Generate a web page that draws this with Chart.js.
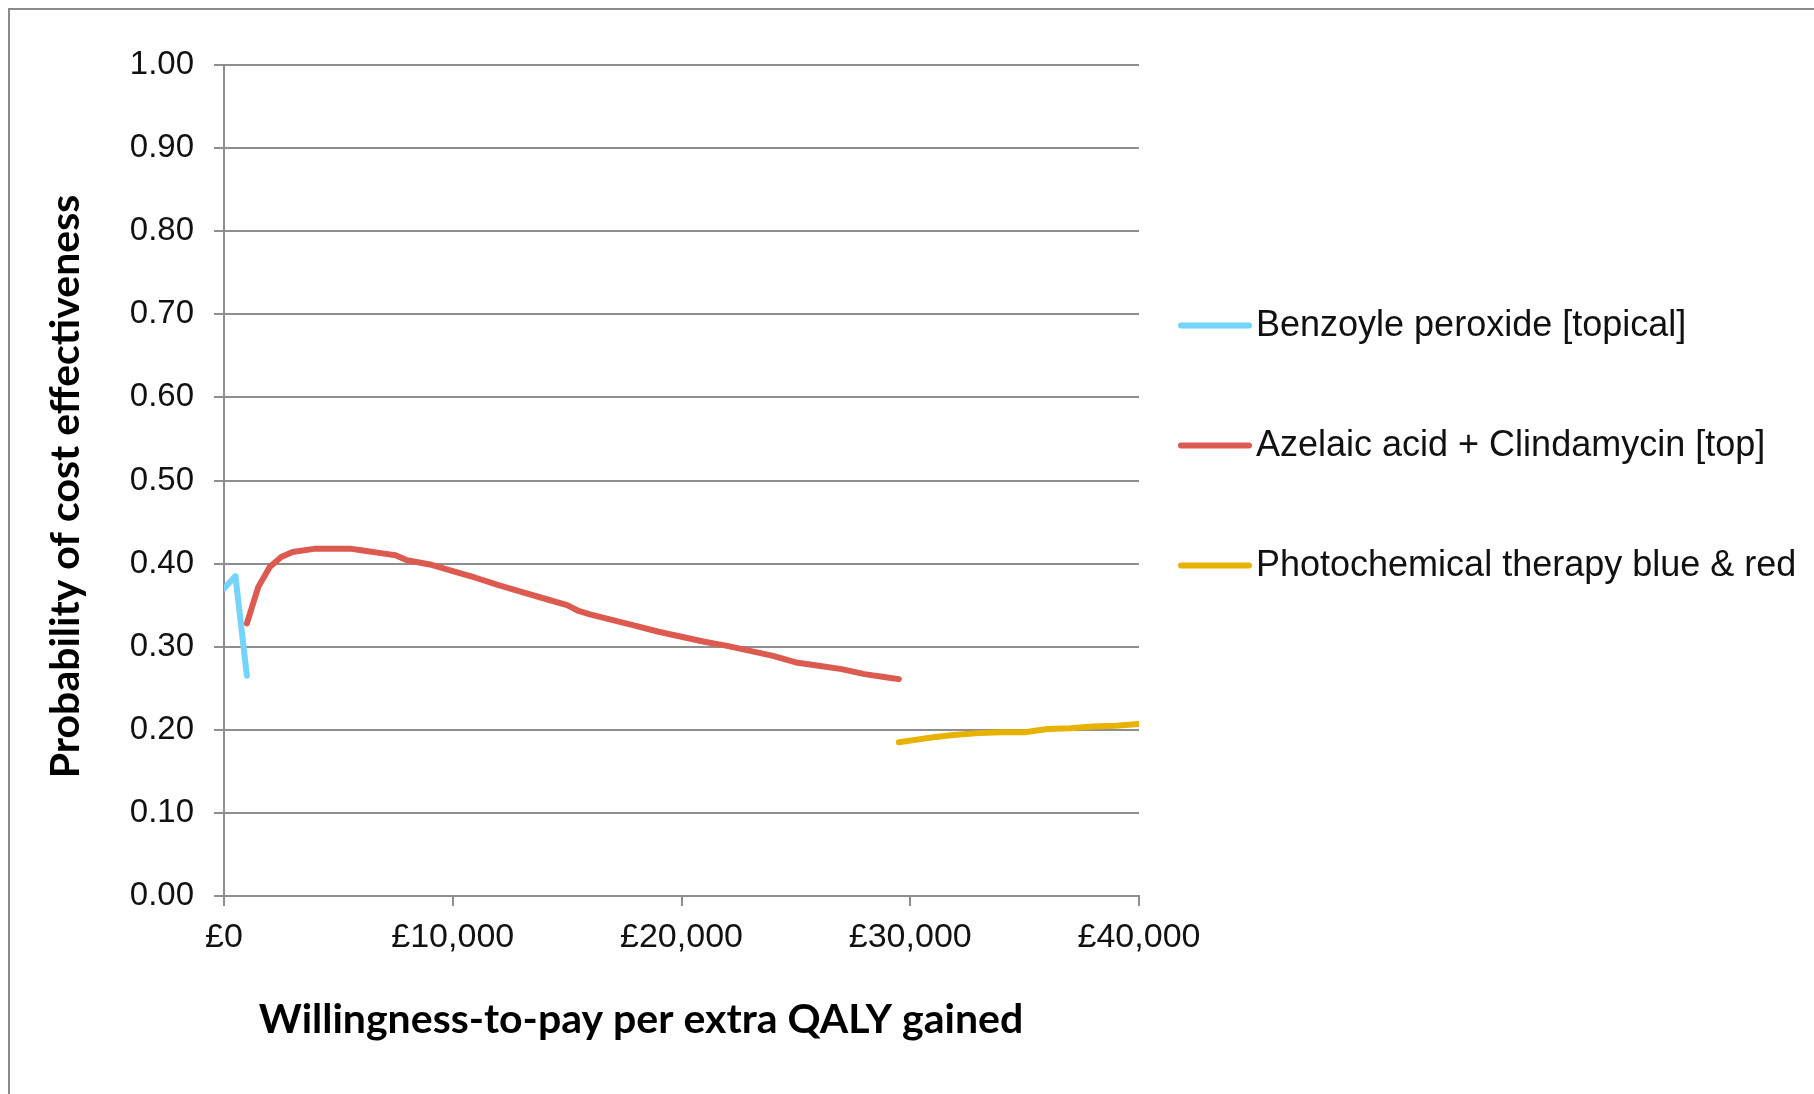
<!DOCTYPE html>
<html>
<head>
<meta charset="utf-8">
<script src="https://cdn.jsdelivr.net/npm/chart.js@4"></script>
<style>
  html, body { margin: 0; padding: 0; background: #fff; }
  #wrap { width: 1814px; height: 1094px; position: relative; }
</style>
</head>
<body>
<div id="wrap"><canvas id="ceac"></canvas></div>
<script>
// willingness-to-pay thresholds (£) and probability of cost effectiveness
const benzoyleWtp = [0, 500, 1000];
const benzoyleProb = [0.370, 0.385, 0.265];

const azelaicWtp = [1000, 1500, 2000, 2500, 3000, 4000, 5000, 5500, 6000, 7000, 7500, 8000, 9000,
  10000, 11000, 12000, 13000, 14000, 15000, 15500, 16000, 17000, 18000, 19000, 20000, 21000,
  22000, 23000, 24000, 25000, 26000, 27000, 28000, 29000, 29500];
const azelaicProb = [0.328, 0.372, 0.396, 0.408, 0.414, 0.418, 0.418, 0.418, 0.416, 0.412, 0.410, 0.404, 0.399,
  0.391, 0.383, 0.374, 0.366, 0.358, 0.350, 0.343, 0.339, 0.332, 0.325, 0.318, 0.312, 0.306,
  0.301, 0.295, 0.289, 0.281, 0.277, 0.273, 0.267, 0.263, 0.261];

const photoWtp = [29500, 30000, 31000, 32000, 33000, 34000, 35000, 36000, 37000, 38000, 39000, 40000];
const photoProb = [0.185, 0.187, 0.191, 0.194, 0.196, 0.197, 0.197, 0.201, 0.202, 0.204, 0.205, 0.207];

const seriesNames = ['Benzoyle peroxide [topical]', 'Azelaic acid + Clindamycin [top]', 'Photochemical therapy blue & red'];
const seriesColors = ['#74d4fb', '#dc5a50', '#e8b200'];

const xTicks = [0, 10000, 20000, 30000, 40000];
const yTicks = [0, 0.1, 0.2, 0.3, 0.4, 0.5, 0.6, 0.7, 0.8, 0.9, 1.0];

const xTitle = 'Willingness-to-pay per extra QALY gained';
const yTitle = 'Probability of cost effectiveness';

function pts(xs, ys) {
  return xs.map((x, i) => ({ x: x, y: ys[i] }));
}

const gridGrey = '#8e8e8e';
const tickFont = { family: '"Liberation Sans", Arial, sans-serif', size: 34 };

// outer frame (left and top edges only are visible)
const framePlugin = {
  id: 'frame',
  beforeDraw(chart) {
    const c = chart.ctx;
    c.save();
    c.strokeStyle = '#8a8a8a';
    c.lineWidth = 2;
    c.beginPath();
    c.moveTo(9, chart.height + 5);
    c.lineTo(9, 9);
    c.lineTo(chart.width + 5, 9);
    c.stroke();
    c.restore();
  }
};

// axis titles, placed by hand relative to the plot area
const axisTitles = {
  id: 'axisTitles',
  afterDraw(chart) {
    const c = chart.ctx;
    const area = chart.chartArea;
    c.save();
    c.fillStyle = '#000';
    c.textAlign = 'center';
    c.textBaseline = 'middle';
    c.font = 'bold 41px Lato, "Open Sans", sans-serif';
    c.fillText(xTitle, area.left + 417, area.bottom + 124);
    c.translate(66, (area.top + area.bottom) / 2 + 6);
    c.rotate(-Math.PI / 2);
    c.font = 'bold 41px Lato, "Open Sans", sans-serif';
    c.fillText(yTitle, 0, 0);
    c.restore();
  }
};

// legend drawn to the right of the plot, one entry per row
const sideLegend = {
  id: 'sideLegend',
  afterDraw(chart) {
    const c = chart.ctx;
    const area = chart.chartArea;
    const mid = (area.top + area.bottom) / 2 - 35;
    const x0 = area.right + 42;
    c.save();
    c.font = '36px "Liberation Sans", Arial, sans-serif';
    c.textBaseline = 'middle';
    c.textAlign = 'left';
    chart.data.datasets.forEach((ds, i) => {
      const y = mid + (i - 1) * 120;
      c.strokeStyle = ds.borderColor;
      c.lineWidth = 6;
      c.lineCap = 'round';
      c.beginPath();
      c.moveTo(x0, y);
      c.lineTo(x0 + 68, y);
      c.stroke();
      c.fillStyle = '#111';
      c.fillText(ds.label, x0 + 75, y + 1);
    });
    c.restore();
  }
};

const datasets = [
  pts(benzoyleWtp, benzoyleProb),
  pts(azelaicWtp, azelaicProb),
  pts(photoWtp, photoProb)
].map((d, i) => ({
  label: seriesNames[i],
  data: d,
  borderColor: seriesColors[i],
  backgroundColor: seriesColors[i],
  borderWidth: 6,
  borderCapStyle: 'round',
  borderJoinStyle: 'round',
  pointRadius: 0,
  tension: 0,
  fill: false
}));

new Chart(document.getElementById('ceac'), {
  type: 'line',
  data: { datasets: datasets },
  plugins: [framePlugin, axisTitles, sideLegend],
  options: {
    responsive: true,
    maintainAspectRatio: false,
    animation: false,
    layout: { padding: { top: 65, right: 675, bottom: 0, left: 0 } },
    plugins: {
      legend: { display: false },
      tooltip: { enabled: false }
    },
    scales: {
      x: {
        type: 'linear',
        min: 0,
        max: 40000,
        afterFit(scale) { scale.height = 198; },
        afterBuildTicks(scale) { scale.ticks = xTicks.map(v => ({ value: v })); },
        ticks: {
          font: tickFont,
          color: '#111',
          padding: 11,
          maxRotation: 0,
          callback: v => '£' + v.toLocaleString('en-GB')
        },
        grid: {
          drawOnChartArea: false,
          drawTicks: true,
          tickLength: 10,
          color: gridGrey,
          lineWidth: 2
        },
        border: { display: true, color: gridGrey, width: 2 }
      },
      y: {
        min: 0,
        max: 1,
        afterFit(scale) { scale.width = 224; },
        afterBuildTicks(scale) { scale.ticks = yTicks.map(v => ({ value: v })); },
        ticks: {
          font: { family: '"Liberation Sans", Arial, sans-serif', size: 33 },
          color: '#111',
          padding: 20,
          callback: v => v.toFixed(2)
        },
        grid: {
          color: gridGrey,
          lineWidth: 2,
          tickLength: 10
        },
        border: { display: true, color: gridGrey, width: 2 }
      }
    }
  }
});
</script>
</body>
</html>
